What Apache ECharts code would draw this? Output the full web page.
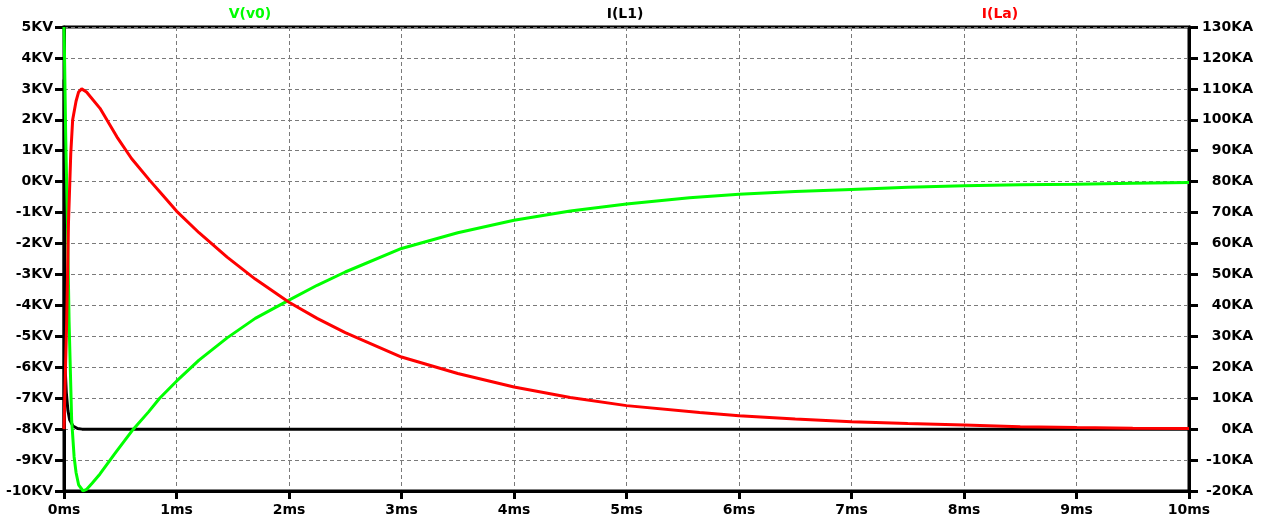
<!DOCTYPE html>
<html>
<head>
<meta charset="utf-8">
<script src="https://cdn.jsdelivr.net/npm/echarts@6/dist/echarts.min.js"></script>
<style>html,body{margin:0;padding:0;background:#fff}#c{width:1265px;height:521px}</style>
</head>
<body>
<div id="c"></div>
<script>
// ---- data (time in ms) ----
const seriesNames = ["V(v0)", "I(L1)", "I(La)"];
const xTicks = [0,1,2,3,4,5,6,7,8,9,10];            // ms
const leftTicks = [-10,-9,-8,-7,-6,-5,-4,-3,-2,-1,0,1,2,3,4,5]; // KV
const rightTicks = [-20,-10,0,10,20,30,40,50,60,70,80,90,100,110,120,130]; // KA

// V(v0) in KV
const tV0 = [0,0.005,0.015,0.03,0.045,0.068,0.09,0.107,0.13,0.17,0.2,0.25,0.32,0.45,0.616,0.75,0.85,1.0,1.2,1.45,1.7,2.0,2.25,2.5,3.0,3.5,4.0,4.5,5.0,5.56,6.0,6.5,7.0,7.5,8.0,8.5,9.0,9.5,10.0];
const vV0 = [5,4,1.5,-1.2,-4.5,-7.7,-8.9,-9.4,-9.8,-10,-9.95,-9.75,-9.45,-8.8,-8.0,-7.45,-7.0,-6.45,-5.77,-5.05,-4.42,-3.83,-3.35,-2.92,-2.16,-1.65,-1.25,-0.95,-0.72,-0.52,-0.41,-0.32,-0.25,-0.18,-0.13,-0.1,-0.08,-0.05,-0.03];

// I(L1) in KA
const tL1 = [0,0.001,0.004,0.01,0.02,0.035,0.05,0.08,0.12,0.16,10];
const iL1 = [0,113,60,20,12,6,3,1,0.2,0,0];

// I(La) in KA
const tLa = [0,0.01,0.024,0.04,0.06,0.077,0.107,0.13,0.157,0.2,0.32,0.47,0.6,0.76,0.88,1.0,1.2,1.45,1.7,2.0,2.25,2.5,3.0,3.5,4.0,4.5,5.0,5.65,6.0,6.5,7.0,7.5,8.0,8.5,9.0,9.5,10.0];
const iLa = [0,15,35,67,89,100,106,109,110,109,103.7,94.5,87.5,80.5,75.5,70.5,63.5,55.6,48.5,41,35.8,31.2,23.3,18,13.6,10.2,7.6,5.4,4.3,3.3,2.4,1.8,1.3,0.8,0.5,0.3,0.2];

const zip = (t, v) => t.map((x, i) => [x, v[i]]);

const FONT = 'DejaVu Sans';
const lbl = { fontFamily: FONT, fontWeight: 'bold', fontSize: 14, color: '#000' };
const grid = { left: 64, right: 76, top: 27, bottom: 30 };
const dashed = { show: true, lineStyle: { color: '#7a7a7a', width: 1, type: [4, 3] } };

const chart = echarts.init(document.getElementById('c'), null, { renderer: 'canvas' });
chart.setOption({
  animation: false,
  backgroundColor: '#fff',
  grid: Object.assign({ show: true, borderColor: '#000', borderWidth: 3, backgroundColor: 'transparent', containLabel: false, outerBoundsMode: 'none' }, grid),
  xAxis: {
    type: 'value', min: xTicks[0], max: xTicks[xTicks.length - 1], interval: 1,
    axisLine: { show: true, onZero: false, lineStyle: { color: '#000', width: 3 } },
    axisTick: { show: true, length: 8, lineStyle: { color: '#000', width: 3 } },
    axisLabel: Object.assign({ margin: 12, formatter: v => v + 'ms' }, lbl),
    splitLine: dashed
  },
  yAxis: [{
    type: 'value', position: 'left', min: leftTicks[0], max: leftTicks[leftTicks.length - 1], interval: 1,
    axisLine: { show: true, onZero: false, lineStyle: { color: '#000', width: 3 } },
    axisTick: { show: true, length: 9, lineStyle: { color: '#000', width: 3 } },
    axisLabel: Object.assign({ margin: 11, formatter: v => v + 'KV' }, lbl),
    splitLine: dashed
  }, {
    type: 'value', position: 'right', min: rightTicks[0], max: rightTicks[rightTicks.length - 1], interval: 10,
    axisLine: { show: true, onZero: false, lineStyle: { color: '#000', width: 3 } },
    axisTick: { show: true, length: 9, lineStyle: { color: '#000', width: 3 } },
    axisLabel: Object.assign({ margin: 64, align: 'right', formatter: v => v + 'KA' }, lbl),
    splitLine: { show: false }
  }],
  graphic: [
    { type: 'text', style: { text: seriesNames[0], x: 250, y: 14, textAlign: 'center', textVerticalAlign: 'middle', fill: '#00ff00', font: 'bold 14px "DejaVu Sans"' } },
    { type: 'text', style: { text: seriesNames[1], x: 625, y: 14, textAlign: 'center', textVerticalAlign: 'middle', fill: '#000000', font: 'bold 14px "DejaVu Sans"' } },
    { type: 'text', style: { text: seriesNames[2], x: 1000, y: 14, textAlign: 'center', textVerticalAlign: 'middle', fill: '#ff0000', font: 'bold 14px "DejaVu Sans"' } }
  ],
  series: [
    { name: seriesNames[1], type: 'line', yAxisIndex: 1, data: zip(tL1, iL1), showSymbol: false, lineStyle: { color: '#000000', width: 3 }, z: 3 },
    { name: seriesNames[0], type: 'line', yAxisIndex: 0, data: zip(tV0, vV0), showSymbol: false, lineStyle: { color: '#00ff00', width: 3 }, z: 4 },
    { name: seriesNames[2], type: 'line', yAxisIndex: 1, data: zip(tLa, iLa), showSymbol: false, lineStyle: { color: '#ff0000', width: 3 }, z: 5 }
  ]
});
</script>
</body>
</html>
